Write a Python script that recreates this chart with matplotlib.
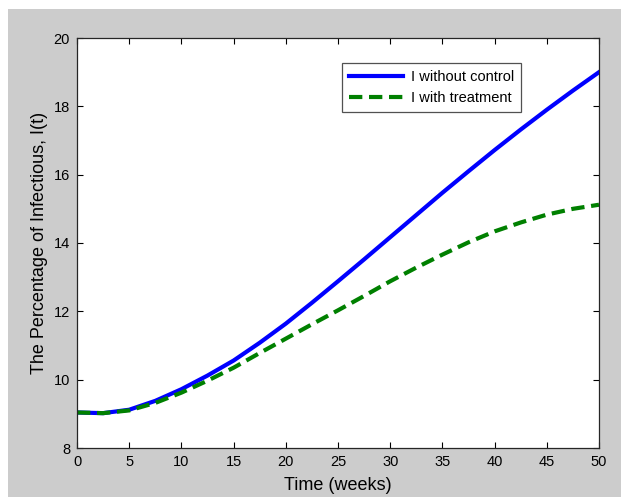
import numpy as np
import matplotlib.pyplot as plt
from matplotlib.patches import Rectangle

plt.rcParams['font.family'] = ['Liberation Sans', 'DejaVu Sans']

# time in weeks
t = [0, 2.5, 5, 7.5, 10, 12.5, 15, 17.5, 20, 22.5, 25,
     27.5, 30, 32.5, 35, 37.5, 40, 42.5, 45, 47.5, 50]

# percentage of infectious, no control
i_no_control = [9.04, 9.02, 9.12, 9.38, 9.72, 10.12, 10.56, 11.08, 11.64, 12.25, 12.88,
                13.52, 14.17, 14.82, 15.47, 16.10, 16.72, 17.32, 17.90, 18.46, 19.00]

# percentage of infectious, with treatment
i_treatment = [9.04, 9.02, 9.10, 9.32, 9.62, 9.97, 10.35, 10.78, 11.20, 11.62, 12.03,
               12.45, 12.88, 13.28, 13.66, 14.02, 14.34, 14.60, 14.83, 15.00, 15.12]

xticks = np.arange(0, 51, 5)
yticks = np.arange(8, 21, 2)

fig = plt.figure(figsize=(6.21, 4.97), dpi=100, facecolor='white')
# gray matlab-style background, leaves a thin white strip top and left
fig.patches.append(Rectangle((8/621, 0), 1, 1 - 9/497, transform=fig.transFigure,
                             facecolor='#cccccc', edgecolor='none', zorder=-1))

ax = fig.add_axes([77/621, 1 - 448/497, 522/621, 410/497])
ax.set_facecolor('white')

ax.plot(t, i_no_control, color='#0000ff', lw=3, label='I without control')
ax.plot(t, i_treatment, color='#008000', lw=3, ls=(0, (3.2, 1.6)), label='I with treatment')

ax.set_xlim(0, 50)
ax.set_ylim(8, 20)
ax.set_xticks(xticks)
ax.set_yticks(yticks)
ax.tick_params(direction='in', top=True, right=True, length=4, width=0.8,
               labelsize=10.5, pad=5)
for s in ax.spines.values():
    s.set_color('#262626')
    s.set_linewidth(0.9)

ax.set_xlabel('Time (weeks)', fontsize=13, labelpad=6)
ax.set_ylabel('The Percentage of Infectious, I(t)', fontsize=13, labelpad=4)

leg = ax.legend(loc='upper left', bbox_to_anchor=(0.508, 0.94), fontsize=10.5,
                frameon=True, fancybox=False, handlelength=3.7, handletextpad=0.5,
                borderpad=0.5, labelspacing=0.5, borderaxespad=0)
leg.get_frame().set_edgecolor('#262626')
leg.get_frame().set_linewidth(0.9)

fig.savefig('out.png', dpi=100, facecolor=fig.get_facecolor())
